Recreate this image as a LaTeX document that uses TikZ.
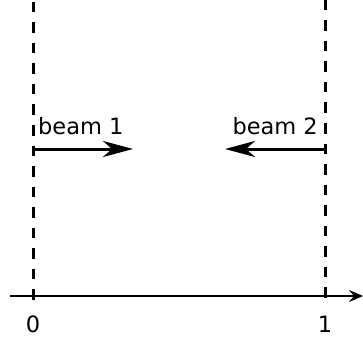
\documentclass[tikz,border=0pt]{standalone}
\usepackage{fontspec}
\setmainfont{DejaVu Sans}
\usetikzlibrary{arrows.meta}
\begin{document}
\begin{tikzpicture}[x=1pt,y=1pt,
  guide/.style={line width=3pt,dash pattern=on 10.5pt off 10pt},
  beam/.style={line width=3pt,-{Stealth[length=30pt,width=16pt,inset=9pt]}},
  axisline/.style={line width=2pt,-{Stealth[length=14pt,width=12pt,inset=5pt]}},
  lbl/.style={inner sep=0pt,font=\fontsize{22.5}{27}\selectfont}]
\useasboundingbox (0,0) rectangle (363,343);
\coordinate (l0) at (33,341);
\coordinate (l1) at (33,40);
\coordinate (r0) at (325,343);
\coordinate (r1) at (325,40);
\coordinate (a0) at (10,47);
\coordinate (a1) at (363,47);
\coordinate (b1s) at (33,194);
\coordinate (b1e) at (133,194);
\coordinate (b2s) at (325,194);
\coordinate (b2e) at (225,194);
\draw[guide] (l0) -- (l1);
\draw[guide] (r0) -- (r1);
\draw[axisline] (a0) -- (a1);
\draw[beam] (b1s) -- (b1e);
\draw[beam] (b2s) -- (b2e);
\node[lbl,anchor=base west] (t1) at (38,209) {beam 1};
\node[lbl,anchor=base east] (t2) at (318,209) {beam 2};
\node[lbl,anchor=base] (x0) at (33,11) {0};
\node[lbl,anchor=base] (x1) at (325,11) {1};
\end{tikzpicture}
\end{document}
